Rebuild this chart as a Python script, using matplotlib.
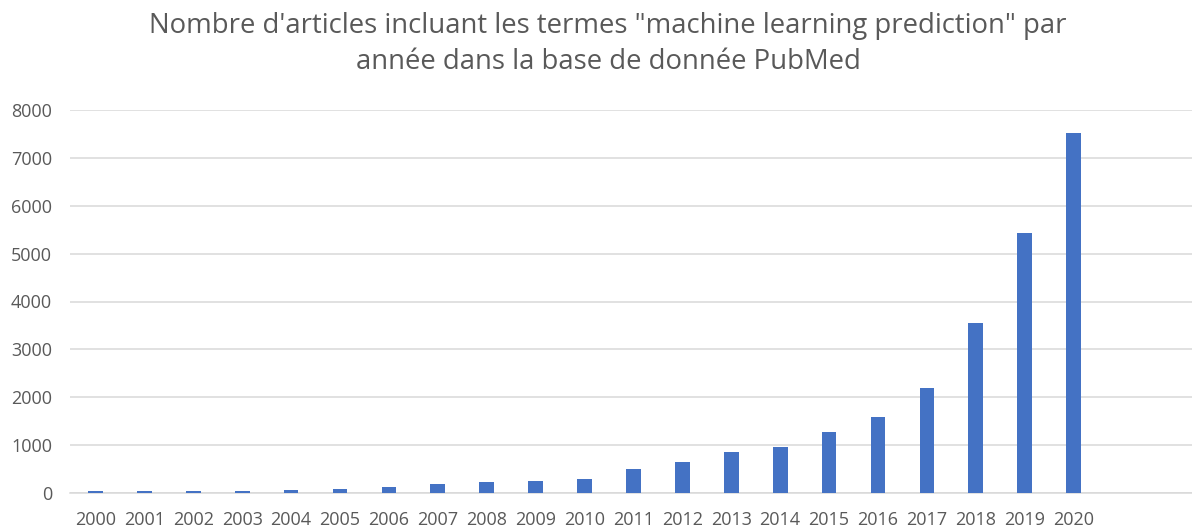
import matplotlib
matplotlib.use("Agg")
import matplotlib.pyplot as plt

years = ["2000", "2001", "2002", "2003", "2004", "2005", "2006", "2007", "2008", "2009",
         "2010", "2011", "2012", "2013", "2014", "2015", "2016", "2017", "2018", "2019", "2020"]
articles = [38, 38, 38, 40, 62, 90, 125, 194, 229, 250,
            285, 500, 657, 846, 965, 1280, 1580, 2203, 3545, 5440, 7515]
y_ticks = [0, 1000, 2000, 3000, 4000, 5000, 6000, 7000, 8000]
title = 'Nombre d\'articles incluant les termes "machine learning prediction" par\nannée dans la base de donnée PubMed'

plt.rcParams['font.family'] = ['Open Sans', 'DejaVu Sans']
text_color = "#595959"
grid_color = "#d9d9d9"

W, H = 1192, 529
fig = plt.figure(figsize=(W / 100, H / 100), dpi=100)
ax = fig.add_axes([70 / W, (H - 493) / H, (W - 70) / W, 383 / H])

x = list(range(len(years)))
ax.bar(x, articles, width=0.30, color="#4472C4", zorder=3)

ax.set_ylim(0, 8000)
ax.set_xlim(-0.52, 22.42)
ax.set_yticks(y_ticks)
ax.set_yticklabels([str(v) for v in y_ticks])
ax.set_xticks(x)
ax.set_xticklabels(years)

ax.grid(axis="y", color=grid_color, linewidth=1.1, zorder=0)
ax.grid(axis="x", visible=False)
for side in ["top", "right", "left"]:
    ax.spines[side].set_visible(False)
ax.spines["bottom"].set_color(grid_color)
ax.spines["bottom"].set_linewidth(1.1)
ax.spines["bottom"].set_zorder(2)

ax.tick_params(axis="both", length=0, labelsize=13, colors=text_color)
ax.tick_params(axis="y", pad=13)
ax.tick_params(axis="x", pad=13)

fig.text(608 / W, 1 - 44 / H, title, ha="center", va="center",
         fontsize=19.8, color=text_color, linespacing=1.42)

fig.savefig("out.png", dpi=100, facecolor="white")
